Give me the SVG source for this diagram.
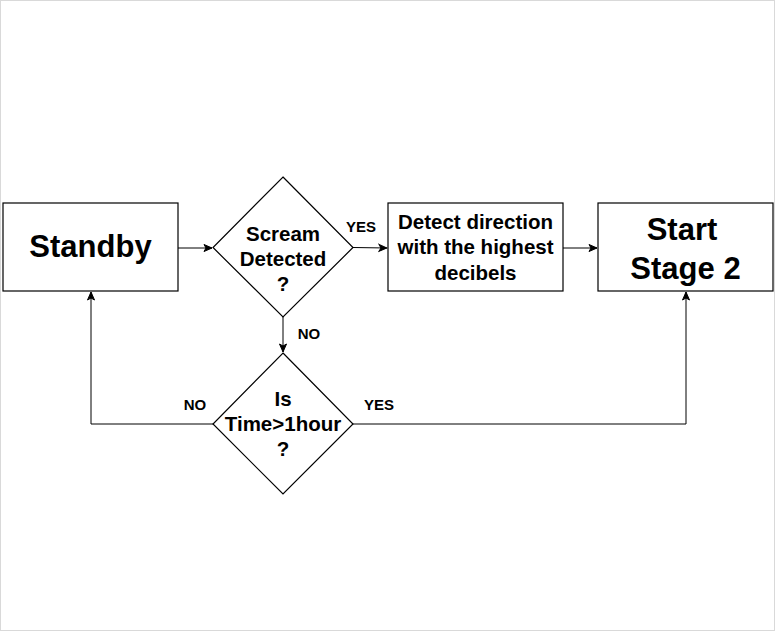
<svg xmlns="http://www.w3.org/2000/svg" width="775" height="631" viewBox="0 0 775 631">
  <defs>
    <marker id="arrow" markerUnits="userSpaceOnUse" markerWidth="10" markerHeight="10" viewBox="0 0 10 10" refX="9" refY="5" orient="auto">
      <path d="M1,1.5 L9,5 L1,8.5 L3,5 Z" fill="#000" stroke="#000" stroke-width="1"/>
    </marker>
  </defs>
  <style>
    .shape { fill: #fff; stroke: #000; stroke-width: 1.2; }
    .edge { fill: none; stroke: #000; stroke-width: 1; }
    text { font-family: "Liberation Sans", Arial, sans-serif; font-weight: bold; fill: #000; text-anchor: middle; }
    .big { font-size: 31px; }
    .mid { font-size: 20.5px; }
    .lbl { font-size: 15px; }
  </style>
  <rect x="0.5" y="0.5" width="774" height="630" fill="#fff" stroke="#d9d9d9" stroke-width="1"/>

  <g id="connectors">
    <path class="edge" d="M178,248 L212,248" marker-end="url(#arrow)"/>
    <path class="edge" d="M353,247.5 L387,248" marker-end="url(#arrow)"/>
    <path class="edge" d="M563,248 L597,248" marker-end="url(#arrow)"/>
    <path class="edge" d="M283,317 L283,352" marker-end="url(#arrow)"/>
    <path class="edge" d="M213,424 L91,424 L91,292" marker-end="url(#arrow)"/>
    <path class="edge" d="M353,424 L686,424 L686,292" marker-end="url(#arrow)"/>
    <text class="lbl" x="361" y="232">YES</text>
    <text class="lbl" x="309" y="339">NO</text>
    <text class="lbl" x="195" y="410">NO</text>
    <text class="lbl" x="379" y="410">YES</text>
  </g>

  <g id="standby">
    <rect class="shape" x="3" y="203" width="175" height="88"/>
    <text class="big" x="90.5" y="257">Standby</text>
  </g>

  <g id="scream-detected">
    <polygon class="shape" points="283,177 353,247.5 283,317 213,247.5"/>
    <text class="mid" x="283" y="241">Scream</text>
    <text class="mid" x="283" y="266">Detected</text>
    <text class="mid" x="283" y="291">?</text>
  </g>

  <g id="detect-direction">
    <rect class="shape" x="388" y="203" width="175" height="88"/>
    <text class="mid" x="475.5" y="229">Detect direction</text>
    <text class="mid" x="475.5" y="254">with the highest</text>
    <text class="mid" x="475.5" y="280">decibels</text>
  </g>

  <g id="start-stage-2">
    <rect class="shape" x="598" y="203" width="175" height="88"/>
    <text class="big" x="682" y="240">Start</text>
    <text class="big" x="685.5" y="279">Stage 2</text>
  </g>

  <g id="time-check">
    <polygon class="shape" points="283,353 353,424 283,494 213,424"/>
    <text class="mid" x="283" y="406">Is</text>
    <text class="mid" x="283" y="431">Time&gt;1hour</text>
    <text class="mid" x="283" y="456">?</text>
  </g>
</svg>
